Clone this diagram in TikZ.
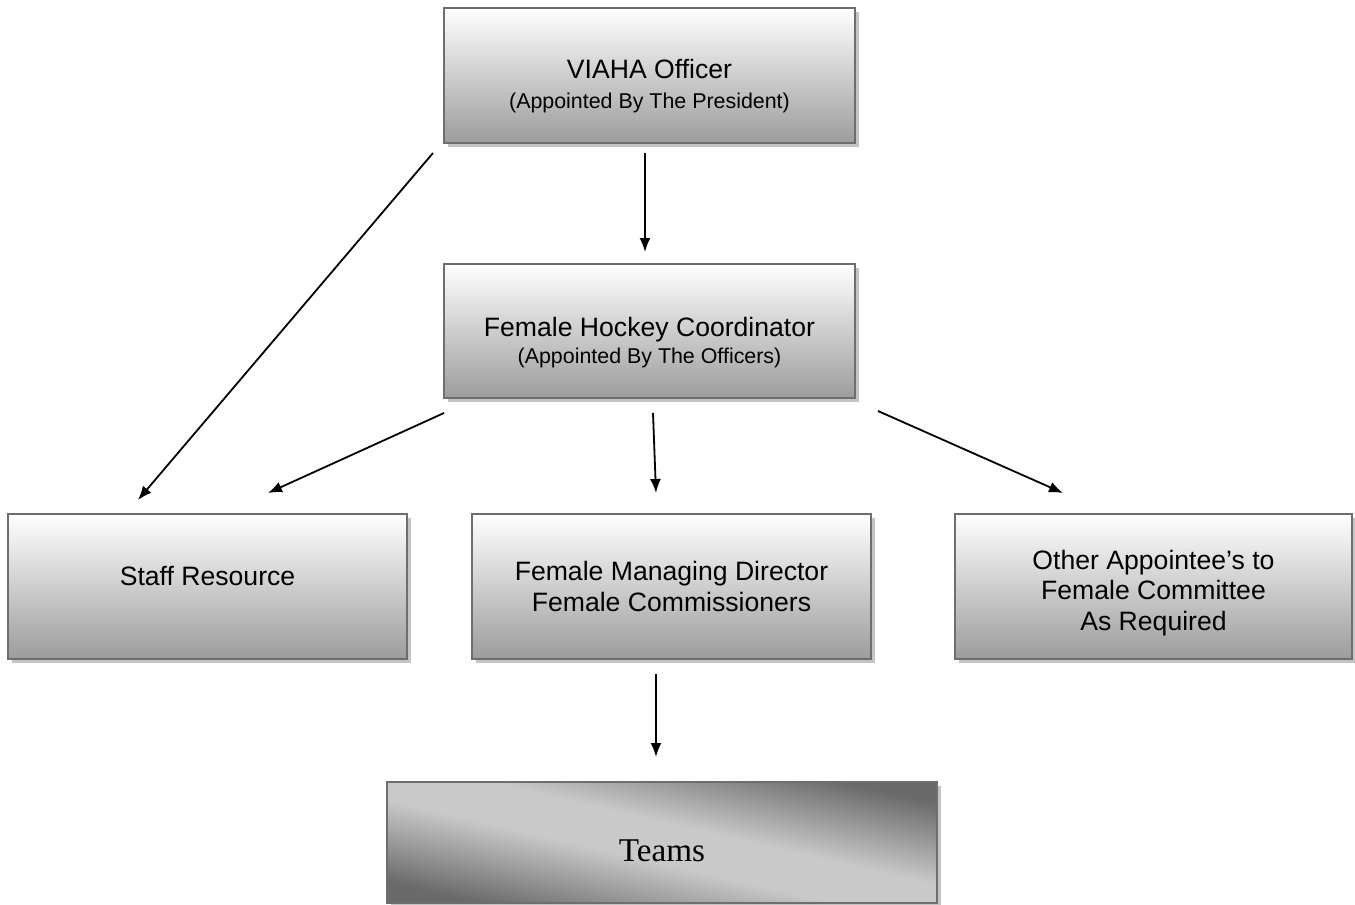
\documentclass[tikz,border=0pt]{standalone}
\usepackage{fontspec}
\setmainfont{Liberation Sans}
\newfontfamily\teamsfont{Liberation Serif}
\usetikzlibrary{shadows,arrows.meta}

\definecolor{boxline}{HTML}{6E6E6E}
\definecolor{boxshade}{HTML}{9C9C9C}
\definecolor{shadowgray}{HTML}{C4C4C4}
\definecolor{teamdark}{HTML}{6A6A6A}
\definecolor{teamlight}{HTML}{C9C9C9}

\pgfdeclareverticalshading{teamshade}{100bp}{color(0bp)=(teamdark); color(25bp)=(teamdark);
  color(45bp)=(teamlight); color(55bp)=(teamlight); color(75bp)=(teamdark); color(100bp)=(teamdark)}

\newcommand{\subline}[1]{{\fontsize{10.7}{14}\selectfont #1}}

\begin{document}
\begin{tikzpicture}[x=0.5pt,y=-0.5pt,
  box/.style={draw=boxline,line width=1pt,top color=white,bottom color=boxshade,
    drop shadow={shadow xshift=2pt,shadow yshift=-2pt,fill=shadowgray,opacity=1},
    align=center,inner sep=0pt,font=\fontsize{13.3}{15.2}\selectfont},
  teambox/.style={box,shading=teamshade,shading angle=-13,
    font=\teamsfont\fontsize{16.6}{19}\selectfont},
  arr/.style={-{Latex[length=7pt,width=5.5pt]},line width=0.9pt}]

\useasboundingbox (0,0) rectangle (1355,905);

\node[box,minimum width=205.5pt,minimum height=67.5pt] (officer) at (649.5,75.5)
  {\rule{0pt}{20pt}VIAHA Officer\\\subline{(Appointed By The President)}};
\node[box,minimum width=205.5pt,minimum height=67pt] (coord) at (649.5,331)
  {\rule{0pt}{21pt}Female Hockey Coordinator\\[-1.5pt]\subline{(Appointed By The Officers)}};

\node[box,minimum width=199.5pt,minimum height=72.5pt] (staff) at (207.5,586.5)
  {\rule[-11pt]{0pt}{11pt}Staff Resource};
\node[box,minimum width=199.5pt,minimum height=72.5pt] (director) at (671.5,586.5)
  {Female Managing Director\\Female Commissioners};
\node[box,minimum width=198.5pt,minimum height=72.5pt] (other) at (1153.5,586.5)
  {\rule{0pt}{16pt}Other Appointee's to\\Female Committee\\As Required};

\node[teambox,minimum width=275pt,minimum height=60.5pt] (teams) at (662,842.5)
  {\rule{0pt}{19pt}Teams};

% free standing arrows
\coordinate (officerS) at (645,153);
\coordinate (coordN) at (645,252);
\coordinate (officerSW) at (433,153);
\coordinate (staffNE) at (138,500);
\coordinate (coordSW) at (444,413);
\coordinate (staffN) at (268,493);
\coordinate (coordS) at (653,413);
\coordinate (directorN) at (656,493);
\coordinate (coordSE) at (878,411);
\coordinate (otherN) at (1063,493);
\coordinate (directorS) at (656,674);
\coordinate (teamsN) at (656,757);

\draw[arr] (officerS) -- (coordN);
\draw[arr] (officerSW) -- (staffNE);
\draw[arr] (coordSW) -- (staffN);
\draw[arr] (coordS) -- (directorN);
\draw[arr] (coordSE) -- (otherN);
\draw[arr] (directorS) -- (teamsN);

\end{tikzpicture}
\end{document}
